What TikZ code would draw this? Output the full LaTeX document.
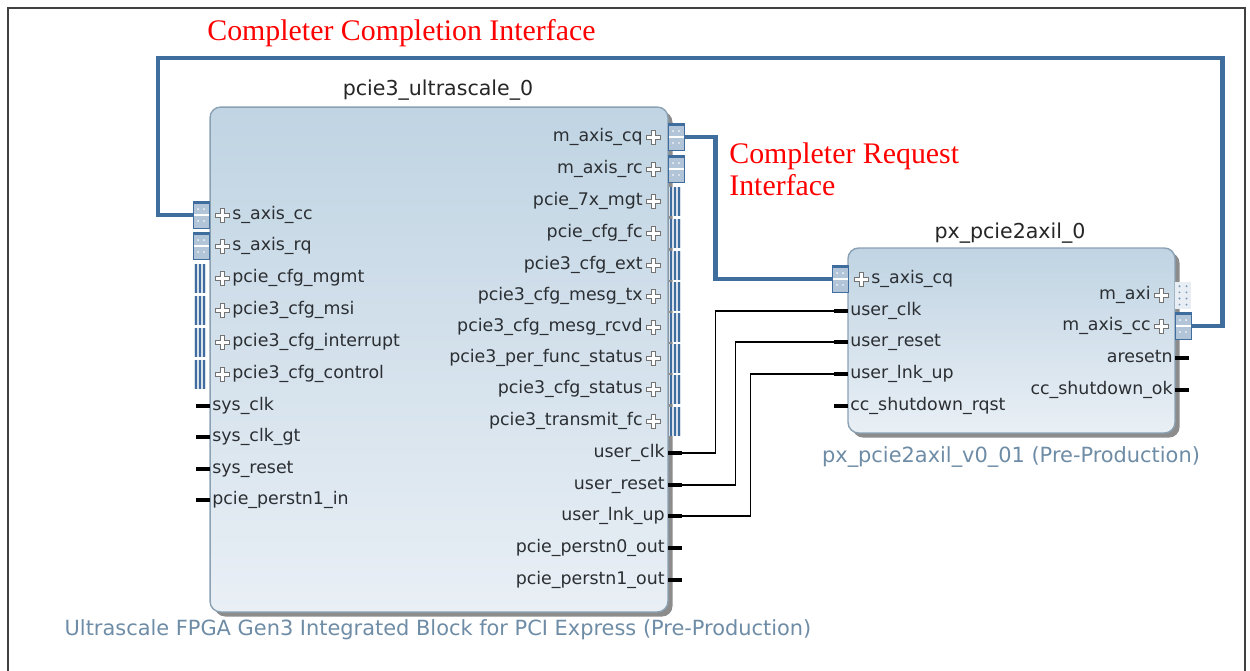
\documentclass[tikz,border=0pt]{standalone}
\usepackage{fontspec}
\setmainfont{Liberation Serif}
\setsansfont{DejaVu Sans}
\usetikzlibrary{positioning,shadows}

\definecolor{ipfill}{HTML}{C0D4E3}
\definecolor{ipfilltwo}{HTML}{E9EFF5}
\definecolor{ipedge}{HTML}{8AA1B4}
\definecolor{busblue}{HTML}{3F6E9E}
\definecolor{capblue}{HTML}{6E8CA6}
\definecolor{portgray}{HTML}{2B2F33}

\tikzset{
  ipblock/.style={draw=ipedge, line width=0.8pt, rounded corners=6pt,
    top color=ipfill, bottom color=ipfilltwo,
    drop shadow={shadow xshift=2.6pt, shadow yshift=-2.6pt, fill=black!45, opacity=1}},
  title/.style={font=\sffamily\fontsize{11.7}{13}\selectfont, text=black!85},
  caption/.style={font=\sffamily\fontsize{11.9}{13}\selectfont, text=capblue},
  port/.style={font=\sffamily\fontsize{9.9}{11}\selectfont, text=portgray, inner sep=0pt,
    text height=7.6pt, text depth=2.4pt},
  stub/.style={fill=black, inner sep=0pt, minimum width=0.28cm, minimum height=0.065cm},
  axisbox/.style={draw=busblue, line width=0.4pt, fill=busblue!40, inner sep=0pt,
    minimum width=0.32cm, minimum height=0.54cm,
    path picture={
      \fill[busblue] (path picture bounding box.north west) rectangle ([yshift=-1.3pt]path picture bounding box.north east);
      \draw[white, line width=0.6pt] (path picture bounding box.west) -- (path picture bounding box.east);
      \foreach \dx in {-1.7,1.7} \foreach \dy in {-3.4,3.4}
        \fill[white] ([xshift=\dx pt, yshift=\dy pt]path picture bounding box.center) circle (0.55pt);
    }},
  busbars/.style={inner sep=0pt, minimum width=0.24cm, minimum height=0.58cm, fill=busblue!20,
    path picture={
      \foreach \dx in {-2.4,0,2.4}
        \draw[busblue, line width=1.1pt] ([xshift=\dx pt]path picture bounding box.north) -- ([xshift=\dx pt]path picture bounding box.south);
    }},
  aximark/.style={inner sep=0pt, minimum width=0.32cm, minimum height=0.54cm, fill=busblue!12,
    path picture={
      \foreach \dx in {-2,2} \foreach \dy in {-5.5,-2,1.5,5}
        \fill[busblue!70] ([xshift=\dx pt, yshift=\dy pt]path picture bounding box.center) circle (0.6pt);
    }},
  bus/.style={draw=busblue, line width=2.8pt},
  wire/.style={draw=black, line width=0.6pt},
  note/.style={font=\fontsize{17}{18.7}\selectfont, text=red, inner sep=0pt},
  plusicon/.pic={
    \draw[black!55, fill=white, line width=0.45pt] (-2,-7) -- (2,-7) -- (2,-2) -- (7,-2) -- (7,2) -- (2,2)
      -- (2,7) -- (-2,7) -- (-2,2) -- (-7,2) -- (-7,-2) -- (-2,-2) -- cycle;
  }
}

\begin{document}
\begin{tikzpicture}[x=0.02cm, y=-0.02cm]
\useasboundingbox (0,0) rectangle (1250,670);
\draw[black!75, line width=1.3pt] (8,672) -- (8,8) -- (1245,8) -- (1245,672);

% the two IP blocks
\node[ipblock, minimum width=9.16cm, minimum height=10.1cm] (core) at (439,359.5) {};
\node[title] (core-title) at (438,90) {pcie3\_ultrascale\_0};
\node[caption] (core-cap) at (438,630) {Ultrascale FPGA Gen3 Integrated Block for PCI Express (Pre-Production)};

\node[ipblock, minimum width=6.54cm, minimum height=3.7cm] (px) at (1011.5,340.5) {};
\node[title] (px-title) at (1010,233) {px\_pcie2axil\_0};
\node[caption] (px-cap) at (1011,457) {px\_pcie2axil\_v0\_01 (Pre-Production)};

% core, left side
\foreach \n/\t/\y in {sacc/s\_axis\_cc/215, sarq/s\_axis\_rq/246}{
  \node[axisbox] (core-mk-\n) at (201,\y) {};
  \pic at (222,\y) {plusicon};
  \node[port, anchor=west] (core-\n) at (232,\y) {\t};
}
\foreach \n/\t/\y in {mgmt/pcie\_cfg\_mgmt/278, msi/pcie3\_cfg\_msi/310, intr/pcie3\_cfg\_interrupt/342, ctrl/pcie3\_cfg\_control/374}{
  \node[busbars] (core-mk-\n) at (200,\y) {};
  \pic at (222,\y) {plusicon};
  \node[port, anchor=west] (core-\n) at (232,\y) {\t};
}
\foreach \n/\t/\y in {sclk/sys\_clk/406, sclkgt/sys\_clk\_gt/437, srst/sys\_reset/469, perin/pcie\_perstn1\_in/500}{
  \node[stub] (core-st-\n) at (203,\y) {};
  \node[port, anchor=west] (core-\n) at (212,\y) {\t};
}

% core, right side
\foreach \n/\t/\y in {mcq/m\_axis\_cq/137, mrc/m\_axis\_rc/169}{
  \node[axisbox] (core-mk-\n) at (676,\y) {};
  \pic at (653,\y) {plusicon};
  \node[port, anchor=east] (core-\n) at (643,\y) {\t};
}
\foreach \n/\t/\y in {mgt/pcie\_7x\_mgt/201, cfc/pcie\_cfg\_fc/233, ext/pcie3\_cfg\_ext/265, mtx/pcie3\_cfg\_mesg\_tx/296,
    mrx/pcie3\_cfg\_mesg\_rcvd/327, pfs/pcie3\_per\_func\_status/358, cst/pcie3\_cfg\_status/389, tfc/pcie3\_transmit\_fc/421}{
  \node[busbars] (core-mk-\n) at (675,\y) {};
  \pic at (653,\y) {plusicon};
  \node[port, anchor=east] (core-\n) at (643,\y) {\t};
}
\foreach \n/\t/\y in {uclk/user\_clk/453, urst/user\_reset/485, ulnk/user\_lnk\_up/516, po0/pcie\_perstn0\_out/548, po1/pcie\_perstn1\_out/580}{
  \node[stub] (core-st-\n) at (675,\y) {};
  \node[port, anchor=east] (core-\n) at (665,\y) {\t};
}

% px_pcie2axil, left side
\node[axisbox] (px-mk-scq) at (840,279) {};
\pic at (861,279) {plusicon};
\node[port, anchor=west] (px-scq) at (871,279) {s\_axis\_cq};
\foreach \n/\t/\y in {uclk/user\_clk/311, urst/user\_reset/342, ulnk/user\_lnk\_up/374, rqst/cc\_shutdown\_rqst/406}{
  \node[stub] (px-st-\n) at (841,\y) {};
  \node[port, anchor=west] (px-\n) at (850,\y) {\t};
}

% px_pcie2axil, right side
\node[aximark] (px-mk-maxi) at (1183,295) {};
\pic at (1161,295) {plusicon};
\node[port, anchor=east] (px-maxi) at (1151,295) {m\_axi};
\node[axisbox] (px-mk-mcc) at (1183,326) {};
\pic at (1161,326) {plusicon};
\node[port, anchor=east] (px-mcc) at (1151,326) {m\_axis\_cc};
\foreach \n/\t/\y in {arst/aresetn/358, ok/cc\_shutdown\_ok/390}{
  \node[stub] (px-st-\n) at (1182,\y) {};
  \node[port, anchor=east] (px-\n) at (1173,\y) {\t};
}

% connections
\coordinate (loop-top) at (158,58);
\draw[bus] (core-mk-mcq.east) -- ++(31,0) |- (px-mk-scq.west);
\draw[bus] (px-mk-mcc.east) -- ++(31,0) |- (loop-top) |- (core-mk-sacc.west);
\draw[wire] (core-st-uclk.east) -- ++(33,0) |- (px-st-uclk.west);
\draw[wire] (core-st-urst.east) -- ++(53,0) |- (px-st-urst.west);
\draw[wire] (core-st-ulnk.east) -- ++(68,0) |- (px-st-ulnk.west);

% interface notes
\node[note, anchor=west] (cc-note) at (207,33) {Completer Completion Interface};
\node[note, anchor=north west, align=left] (cq-note) at (729,142) {Completer Request\\Interface};
\end{tikzpicture}
\end{document}
